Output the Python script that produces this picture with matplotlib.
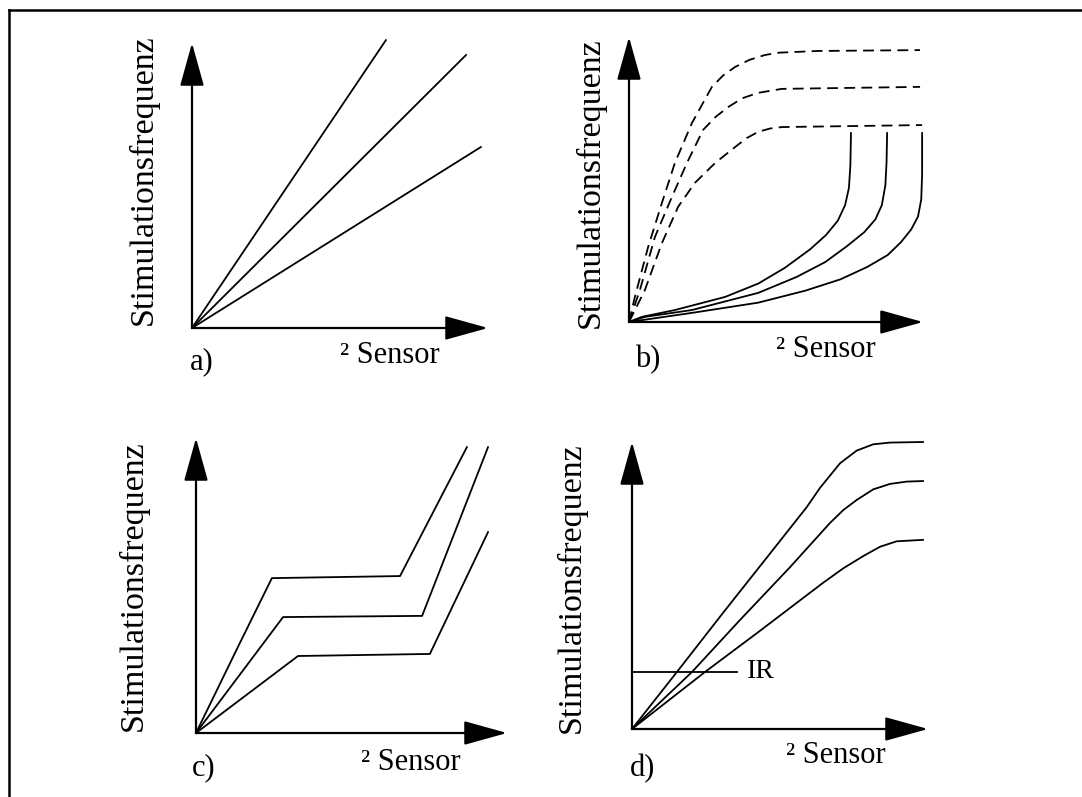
import matplotlib.pyplot as plt
from matplotlib.lines import Line2D

W, H = 1082, 797

# panel a: straight lines from the origin
a_x = [[0, 65.5], [0, 92.6], [0, 97.6]]
a_y = [[0, 101.0], [0, 95.8], [0, 63.5]]

# panel b: dashed saturating curves and solid curves bending upward
b_dash_x = [[0, 2.0, 6.5, 11.2, 15.6, 21.4, 28.2, 32.0, 36.1, 41.0, 46.3, 51.0, 55.4, 64.3, 99.0],
            [0, 3.7, 8.8, 14.6, 19.7, 25.2, 29.5, 33.7, 38.5, 43.9, 52.0, 99.0],
            [0, 5.4, 11.2, 16.7, 22.4, 29.3, 36.1, 40.0, 43.9, 48.0, 52.0, 99.7]]
b_dash_y = [[0, 8.8, 26.3, 41.8, 55.8, 69.8, 82.5, 86.5, 89.5, 92.0, 93.7, 94.5, 94.7, 95.1, 95.4],
            [0, 11.2, 29.8, 43.9, 55.8, 67.4, 72.0, 75.4, 78.5, 80.4, 81.8, 82.5],
            [0, 11.2, 27.7, 40.4, 48.8, 55.8, 61.4, 64.5, 66.7, 67.9, 68.4, 69.1]]
b_solid_x = [[0, 4.4, 15.6, 32.7, 44.0, 53.0, 61.6, 67.0, 71.0, 73.5, 74.8, 75.3, 75.5],
             [0, 5.4, 21.4, 43.9, 57.0, 66.7, 74.0, 80.0, 83.8, 86.0, 87.2, 87.6, 87.8],
             [0, 21.4, 44.0, 60.0, 72.0, 81.0, 88.0, 92.5, 96.0, 98.3, 99.4, 99.7, 99.7]]
b_solid_y = [[0, 1.8, 4.2, 8.8, 13.5, 19.0, 25.5, 30.5, 35.5, 41.0, 47.0, 55.0, 66.3],
             [0, 1.8, 4.2, 10.2, 15.8, 21.0, 26.5, 31.5, 36.0, 41.0, 48.0, 56.0, 66.3],
             [0, 3.2, 6.8, 11.0, 15.0, 19.3, 23.5, 28.0, 32.5, 37.0, 43.0, 52.0, 66.3]]

# panel c: rise, plateau, rise
c_x = [[0, 14.1, 24.4, 65.6, 87.1], [0, 28.0, 72.7, 93.9], [0, 32.8, 75.2, 93.9]]
c_y = [[0, 30.5, 52.5, 53.2, 96.9], [0, 39.3, 39.7, 96.9], [0, 26.1, 26.8, 68.1]]

# panel d: linear then saturating, with IR threshold
d_x = [[0, 15.2, 30.7, 47.6, 59.1, 63.5, 70.3, 75.9, 81.5, 87.2, 98.3],
       [0, 20.3, 36.5, 53.4, 66.9, 71.4, 75.9, 81.5, 87.2, 92.8, 98.3],
       [0, 24.7, 42.2, 64.5, 71.4, 78.2, 83.8, 89.4, 98.3]]
d_y = [[0, 19.9, 40.4, 62.4, 77.4, 84.0, 92.6, 97.0, 99.2, 99.8, 100.0],
       [0, 19.9, 38.0, 56.4, 71.8, 76.3, 79.8, 83.5, 85.4, 86.2, 86.4],
       [0, 19.9, 33.4, 50.9, 56.0, 60.3, 63.5, 65.4, 65.9]]
ir_x = [0, 35.5]
ir_y = [19.9, 19.9]

ylabel = "Stimulationsfrequenz"
xlabel = "\u00b2 Sensor"
serif = "Liberation Serif"

fig = plt.figure(figsize=(W / 100, H / 100), dpi=100)


def px(x, y):
    return x / W, (H - y) / H


def make_ax(ox, oy, xlen, ylen):
    ax = fig.add_axes([ox / W, (H - oy) / H, xlen / W, ylen / H])
    ax.set_xlim(0, 100)
    ax.set_ylim(0, 100)
    ax.axis("off")
    style = "-|>,head_length=27,head_width=7.5"
    for tip in [(100, 0), (0, 100)]:
        ax.annotate("", xy=tip, xytext=(0, 0), annotation_clip=False,
                    arrowprops=dict(arrowstyle=style, mutation_scale=1, lw=1.6,
                                    color="k", shrinkA=0, shrinkB=0))
    return ax


def labels(ylab_c, xlab_pos, tag, tag_pos):
    fig.text(*px(*ylab_c), ylabel, rotation=90, ha="center", va="center",
             fontsize=24.5, family=serif)
    fig.text(*px(*xlab_pos), xlabel, ha="left", va="baseline",
             fontsize=22, family=serif)
    fig.text(*px(*tag_pos), tag, ha="left", va="baseline",
             fontsize=22, family=serif)


lw = 1.3

ax = make_ax(192, 328, 296, 285)
for xs, ys in zip(a_x, a_y):
    ax.plot(xs, ys, color="k", lw=lw, clip_on=False)
labels((143, 180), (340, 363), "a)", (190, 369))

ax = make_ax(629, 322, 294, 285)
for xs, ys in zip(b_dash_x, b_dash_y):
    ax.plot(xs, ys, color="k", lw=lw, ls=(0, (6, 3.5)), clip_on=False)
for xs, ys in zip(b_solid_x, b_solid_y):
    ax.plot(xs, ys, color="k", lw=lw, clip_on=False)
labels((590, 183), (776, 357), "b)", (635, 367))

ax = make_ax(196, 733, 311, 295)
for xs, ys in zip(c_x, c_y):
    ax.plot(xs, ys, color="k", lw=lw, clip_on=False)
labels((133, 586), (361, 770), "c)", (192, 775))

ax = make_ax(632, 729, 296, 287)
for xs, ys in zip(d_x, d_y):
    ax.plot(xs, ys, color="k", lw=lw, clip_on=False)
ax.plot(ir_x, ir_y, color="k", lw=lw, clip_on=False)
ax.text(39, 19.9, "IR", ha="left", va="center", fontsize=20, family=serif)
labels((571, 588), (786, 763), "d)", (630, 776))

# outer frame (only top and left edges are visible)
fig.add_artist(Line2D([9 / W, 9 / W], [0, (H - 10) / H], color="k", lw=1.8))
fig.add_artist(Line2D([9 / W, 1], [(H - 10) / H, (H - 10) / H], color="k", lw=1.8))

fig.savefig("out.png", dpi=100)
